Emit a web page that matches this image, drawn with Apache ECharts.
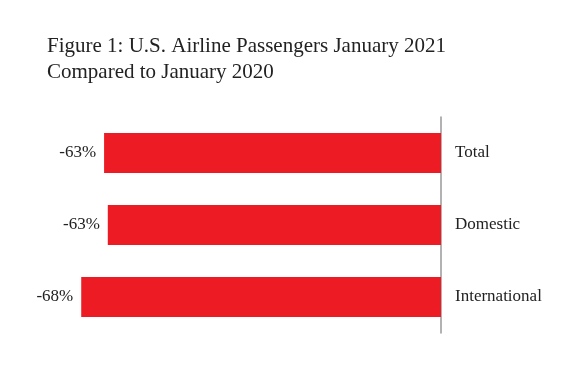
<!DOCTYPE html>
<html>
<head>
<meta charset="utf-8">
<script src="https://cdn.jsdelivr.net/npm/echarts@6/dist/echarts.min.js"></script>
<style>html,body{margin:0;padding:0;background:#fff;}#c{width:575px;height:367px;}</style>
</head>
<body>
<div id="c"></div>
<script>
const categories = ['Total', 'Domestic', 'International'];
const values = [-63.4, -62.7, -67.7];
const titleLines = ['Figure 1: U.S. Airline Passengers January 2021', 'Compared to January 2020'];

const chart = echarts.init(document.getElementById('c'), null, {renderer: 'canvas'});
chart.setOption({
  animation: false,
  backgroundColor: '#ffffff',
  title: {
    text: titleLines.join('\n'),
    left: 42, top: 28,
    textStyle: {fontFamily: 'Liberation Serif', fontSize: 21, fontWeight: 'normal', color: '#222', lineHeight: 26}
  },
  grid: {left: 69, right: 134, top: 117, bottom: 34},
  xAxis: {type: 'value', min: -70, max: 0, show: false},
  yAxis: {
    type: 'category', data: categories, inverse: true, position: 'right',
    axisLine: {show: true, lineStyle: {color: '#999', width: 1.5}},
    axisTick: {show: false},
    axisLabel: {margin: 14, fontFamily: 'Liberation Serif', fontSize: 17, color: '#222'}
  },
  series: [{
    type: 'bar', data: values, barWidth: 40,
    itemStyle: {color: '#ED1C24'},
    label: {show: true, position: 'left', distance: 8, fontFamily: 'Liberation Serif', fontSize: 17, color: '#222',
      formatter: p => Math.round(p.value) + '%'}
  }]
});
</script>
</body>
</html>
